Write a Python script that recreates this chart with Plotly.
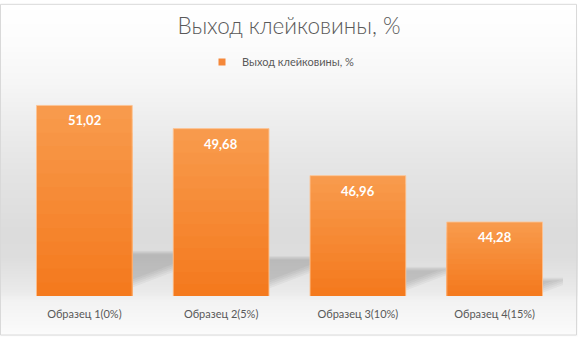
import base64
import struct
import zlib

import plotly.graph_objects as go

# ---------------- data ----------------
categories = ["Образец 1(0%)", "Образец 2(5%)", "Образец 3(10%)", "Образец 4(15%)"]
values = [51.02, 49.68, 46.96, 44.28]
series_name = "Выход клейковины, %"
chart_title = "Выход клейковины, %"
y_min, y_max = 40, 52

# ---------------- layout constants ----------------
W, H = 578, 337
ML, MR, MT, MB = 16, 15, 86, 41
PW, PH = W - ML - MR, H - MT - MB
BAR_W = 0.7
TEXT_GREY = "#595959"
TOP_ORANGE = (248, 154, 76)
BOT_ORANGE = (244, 122, 30)


def xp(px):
    return (px - ML) / PW


def yp(py):
    return (H - MB - py) / PH


def png_gradient(stops, height, width=2):
    """vertical grey gradient PNG as data URI; stops = [(row, grey), ...]"""
    rows = []
    for r in range(height):
        g = stops[-1][1]
        for i in range(len(stops) - 1):
            (r0, g0), (r1, g1) = stops[i], stops[i + 1]
            if r0 <= r <= r1:
                t = 0 if r1 == r0 else (r - r0) / (r1 - r0)
                g = round(g0 + (g1 - g0) * t)
                break
        rows.append(b"\x00" + bytes([g, g, g]) * width)
    raw = b"".join(rows)

    def chunk(tag, data):
        c = struct.pack(">I", len(data)) + tag + data
        return c + struct.pack(">I", zlib.crc32(tag + data) & 0xFFFFFFFF)

    png = b"\x89PNG\r\n\x1a\n"
    png += chunk(b"IHDR", struct.pack(">IIBBBBB", width, height, 8, 2, 0, 0, 0))
    png += chunk(b"IDAT", zlib.compress(raw, 9))
    png += chunk(b"IEND", b"")
    return "data:image/png;base64," + base64.b64encode(png).decode()


def mix(c0, c1, t):
    return "rgb(%d,%d,%d)" % tuple(round(a + (b - a) * t) for a, b in zip(c0, c1))


fig = go.Figure()

# bars with a vertical gradient: overlaid layers, each drawn from the values
N = 14
for k in range(N):
    frac = 1 - k / N
    fig.add_trace(go.Bar(
        x=categories,
        y=[y_min + (v - y_min) * frac for v in values],
        width=BAR_W,
        marker=dict(color=mix(TOP_ORANGE, BOT_ORANGE, k / (N - 1)), line=dict(width=0)),
        showlegend=False,
        hoverinfo="skip",
    ))

# outline of the bars
fig.add_trace(go.Bar(
    x=categories, y=values, width=BAR_W, name=series_name,
    marker=dict(color="rgba(0,0,0,0)", line=dict(color="rgba(252,196,150,0.9)", width=1)),
    showlegend=False,
))

# legend entry (small square)
fig.add_trace(go.Scatter(
    x=[None], y=[None], mode="markers", name=series_name,
    marker=dict(symbol="square", size=7, color="#f5883a"),
))

# value labels
annotations = []
for c, v in zip(categories, values):
    annotations.append(dict(
        x=c, y=v, xref="x", yref="y", text=f"{v:.2f}".replace(".", ","),
        showarrow=False, yanchor="middle", yshift=-15,
        font=dict(family="Lato", size=13, color="white", weight="bold"),
    ))

# soft perspective shadows behind the bars (derived from the values)
px_per_y = PH / (y_max - y_min)
px_per_x = PW / len(categories)
shapes = []
L = 5
M_SKEW = 2.6
for i, v in enumerate(values):
    hp = (v - y_min) * px_per_y          # bar height, px
    c0 = 0.045 * hp
    top = 0.23 * hp
    xl, xr = i - BAR_W / 2, i + BAR_W / 2
    for j in range(L):
        c_j = c0 + 2.0 * j               # diagonal edge shifted -> soft edge
        t_j = top + 1.5 - 0.9 * j        # soft top edge
        xb = xr
        xt = xr + M_SKEW * (t_j - c_j) / px_per_x
        yb = y_min + c_j / px_per_y
        yt = y_min + t_j / px_per_y
        path = f"M{xl},{yb} L{xb},{yb} L{xt},{yt} L{xl},{yt} Z"
        shapes.append(dict(type="path", path=path, xref="x", yref="y",
                           fillcolor="rgba(40,40,40,0.043)", line=dict(width=0),
                           layer="below"))

# chart border
shapes.append(dict(type="rect", xref="paper", yref="paper",
                   x0=xp(0.5), x1=xp(576.5), y0=yp(335.5), y1=yp(0.8),
                   line=dict(color="#d9d9d9", width=1), fillcolor="rgba(0,0,0,0)",
                   layer="above"))

bg = png_gradient([(0, 255), (40, 252), (80, 246), (115, 238), (170, 228),
                   (230, 220), (255, 221), (290, 234), (300, 242), (337, 252)], H)

fig.update_layout(
    width=W, height=H,
    margin=dict(l=ML, r=MR, t=MT, b=MB),
    paper_bgcolor="white",
    plot_bgcolor="rgba(0,0,0,0)",
    barmode="overlay",
    separators=", ",
    font=dict(family="Lato", color=TEXT_GREY, size=11),
    title=dict(text=chart_title, x=0.5, xanchor="center", xref="container",
               y=1 - 26 / H, yanchor="middle", yref="container",
               font=dict(family="Lato", size=22.5, color=TEXT_GREY, weight=300)),
    legend=dict(orientation="h", x=0.5 - 8 / W, xanchor="center", xref="container",
                y=1 - 62 / H, yanchor="middle", yref="container",
                font=dict(family="Lato", size=11, color=TEXT_GREY),
                bgcolor="rgba(0,0,0,0)", itemwidth=30),
    xaxis=dict(type="category", showgrid=False, zeroline=False, showline=False,
               ticks="", tickfont=dict(family="Lato", size=11, color=TEXT_GREY),
               ticklabelstandoff=10, range=[-0.5, len(categories) - 0.5]),
    yaxis=dict(visible=False, range=[y_min, y_max]),
    annotations=annotations,
    shapes=shapes,
    images=[dict(source=bg, xref="paper", yref="paper", x=xp(0), y=yp(0),
                 sizex=W / PW, sizey=H / PH, sizing="stretch",
                 xanchor="left", yanchor="top", layer="below")],
    showlegend=True,
)

fig.write_html("out.html", config={"displayModeBar": False},
               post_script="document.body.style.margin='0';")
